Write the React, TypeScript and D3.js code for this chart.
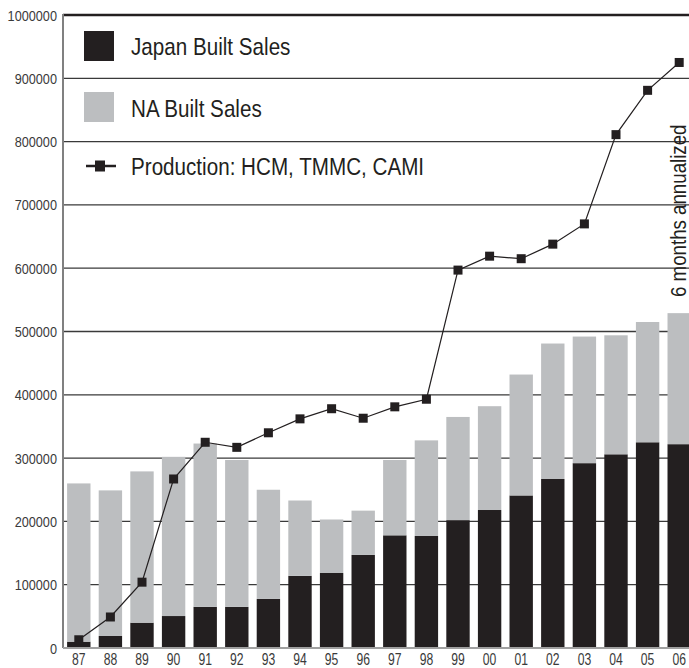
import * as d3 from 'd3';
import React, { useEffect, useRef } from 'react';

const years = ['87', '88', '89', '90', '91', '92', '93', '94', '95', '96', '97', '98', '99', '00', '01', '02', '03', '04', '05', '06'];
const japanBuilt = [10000, 19000, 40000, 50500, 65000, 65000, 77500, 114000, 118500, 147000, 178000, 177000, 202000, 218000, 241000, 267000, 292000, 306000, 325000, 322000];
const naBuilt = [250000, 230000, 239000, 251500, 258000, 232000, 172500, 119000, 84500, 70000, 119000, 151000, 163000, 164000, 191000, 214000, 200000, 188000, 190000, 207000];
const production = [13000, 49000, 104000, 267000, 325000, 317000, 340000, 362000, 378000, 363000, 381000, 393000, 597000, 619000, 615000, 638000, 670000, 811000, 881000, 925000];
const yTicks = [0, 100000, 200000, 300000, 400000, 500000, 600000, 700000, 800000, 900000, 1000000];
const legendLabels = ['Japan Built Sales', 'NA Built Sales', 'Production: HCM, TMMC, CAMI'];

const DARK = '#231f20';
const GRAY = '#bcbec0';
const FONT = '"Liberation Sans", Arial, sans-serif';

const App: React.FC = () => {
  const ref = useRef<SVGSVGElement | null>(null);

  useEffect(() => {
    const width = 689;
    const height = 668;
    const left = 63;
    const top = 15;
    const bottom = 648;

    const svg = d3.select(ref.current)
      .attr('width', width)
      .attr('height', height);
    svg.selectAll('*').remove();

    const x = d3.scaleBand<string>().domain(years).range([left, 695]).paddingInner(0.26).paddingOuter(0.13);
    const y = d3.scaleLinear().domain([0, 1000000]).range([bottom, top]);

    // grid lines
    svg.append('g')
      .selectAll('line')
      .data(yTicks.filter(t => t > 0))
      .enter()
      .append('line')
      .attr('x1', left)
      .attr('x2', width)
      .attr('y1', d => y(d))
      .attr('y2', d => y(d))
      .attr('stroke', d => d === 1000000 ? DARK : '#3a3a3a')
      .attr('stroke-width', d => d === 1000000 ? 2.5 : 1.3);

    // y labels (narrowed to mimic a condensed face)
    svg.append('g')
      .selectAll('text')
      .data(yTicks)
      .enter()
      .append('text')
      .attr('transform', d => `translate(57,${y(d)}) scale(0.82,1)`)
      .attr('dy', '0.36em')
      .attr('text-anchor', 'end')
      .attr('font-family', FONT)
      .attr('font-size', 15.5)
      .attr('fill', '#3a3a3a')
      .text(d => String(d));

    // stacked bars
    const stackData = years.map((yr, i) => ({ year: yr, japan: japanBuilt[i], na: naBuilt[i] }));
    const series = d3.stack<{ year: string; japan: number; na: number }>().keys(['japan', 'na'])(stackData);
    const colors = [DARK, GRAY];
    svg.append('g')
      .selectAll('g')
      .data(series)
      .enter()
      .append('g')
      .attr('fill', (_d, i) => colors[i])
      .selectAll('rect')
      .data(d => d)
      .enter()
      .append('rect')
      .attr('x', d => x(d.data.year) as number)
      .attr('width', x.bandwidth())
      .attr('y', d => y(d[1]))
      .attr('height', d => y(d[0]) - y(d[1]));

    // axes lines
    svg.append('line')
      .attr('x1', left).attr('x2', left).attr('y1', top - 1).attr('y2', bottom)
      .attr('stroke', '#808080').attr('stroke-width', 2);
    svg.append('line')
      .attr('x1', left).attr('x2', width).attr('y1', bottom).attr('y2', bottom)
      .attr('stroke', '#a0a0a0').attr('stroke-width', 2);

    // x labels
    svg.append('g')
      .selectAll('text')
      .data(years)
      .enter()
      .append('text')
      .attr('transform', d => `translate(${(x(d) as number) + x.bandwidth() / 2},665) scale(0.76,1)`)
      .attr('text-anchor', 'middle')
      .attr('font-family', FONT)
      .attr('font-size', 16)
      .attr('fill', '#3a3a3a')
      .text(d => d);

    // production line
    const cx = (i: number) => (x(years[i]) as number) + x.bandwidth() / 2;
    const line = d3.line<number>().x((_d, i) => cx(i)).y(d => y(d));
    svg.append('path')
      .attr('d', line(production))
      .attr('fill', 'none')
      .attr('stroke', DARK)
      .attr('stroke-width', 1.2);
    svg.append('g')
      .selectAll('rect')
      .data(production)
      .enter()
      .append('rect')
      .attr('x', (_d, i) => cx(i) - 4.5)
      .attr('y', d => y(d) - 4.5)
      .attr('width', 9)
      .attr('height', 9)
      .attr('fill', DARK);

    // legend
    const legend = svg.append('g');
    legend.append('rect').attr('x', 84).attr('y', 31).attr('width', 30).attr('height', 30).attr('fill', DARK);
    legend.append('rect').attr('x', 84).attr('y', 92).attr('width', 30).attr('height', 30).attr('fill', GRAY);
    legend.append('line').attr('x1', 86).attr('x2', 116).attr('y1', 166).attr('y2', 166)
      .attr('stroke', DARK).attr('stroke-width', 2.5);
    legend.append('rect').attr('x', 95).attr('y', 160.5).attr('width', 10).attr('height', 11).attr('fill', DARK);
    legend.selectAll('text.lbl')
      .data(legendLabels)
      .enter()
      .append('text')
      .attr('class', 'lbl')
      .attr('transform', (_d, i) => `translate(131,${[55, 117, 175][i]}) scale(0.86,1)`)
      .attr('font-family', FONT)
      .attr('font-size', 24)
      .attr('fill', DARK)
      .text(d => d);

    // annotation
    svg.append('text')
      .attr('transform', `translate(686, 297) rotate(-90) scale(0.85,1)`)
      .attr('font-family', FONT)
      .attr('font-size', 22)
      .attr('fill', DARK)
      .text('6 months annualized');
  }, []);

  return (
    <svg ref={ref} style={{ position: 'absolute', left: 0, top: 0, background: '#fff' }}></svg>
  );
};

export default App;
